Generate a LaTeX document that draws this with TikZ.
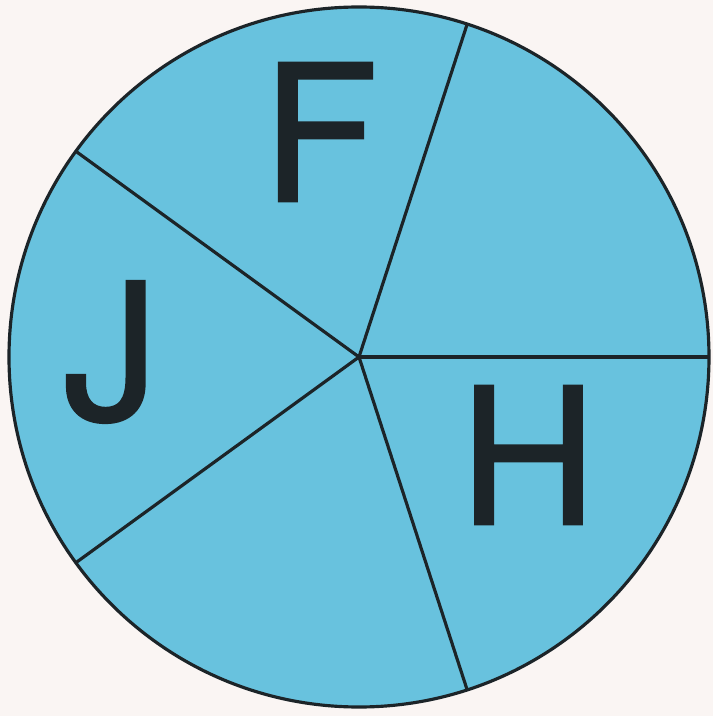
\documentclass[tikz,border=0pt]{standalone}
\usepackage{fontspec}
\usetikzlibrary{calc}
\newfontfamily\letterfont[FakeBold=1.3]{TeX Gyre Heros}
\definecolor{paper}{RGB}{250,245,243}
\definecolor{disc}{RGB}{104,194,222}
\definecolor{ink}{RGB}{28,36,40}
\tikzset{
    spoke/.style={ink, line width=0.9pt},
    letter/.style={ink, font=\letterfont\fontsize{54}{64}\selectfont, inner sep=0pt}
}
\begin{document}
\begin{tikzpicture}
    % background and bounds
    \fill[paper] (-3.59,-3.59) rectangle (3.54,3.57);
    \useasboundingbox (-3.59,-3.59) rectangle (3.54,3.57);

    % disc
    \coordinate (c) at (0,0);
    \filldraw[fill=disc, draw=ink, line width=0.9pt] (c) circle (3.5);

    % five spokes
    \foreach \a in {0,72,144,216,288} {
        \draw[spoke] (c) -- ($(c)+(\a:3.5)$);
    }

    % letters
    \node[letter] (f) at (-0.39,2.25) {F};
    \node[letter] (j) at (-2.48,0.05) {J};
    \node[letter] (h) at (1.69,-0.98) {H};
\end{tikzpicture}
\end{document}
